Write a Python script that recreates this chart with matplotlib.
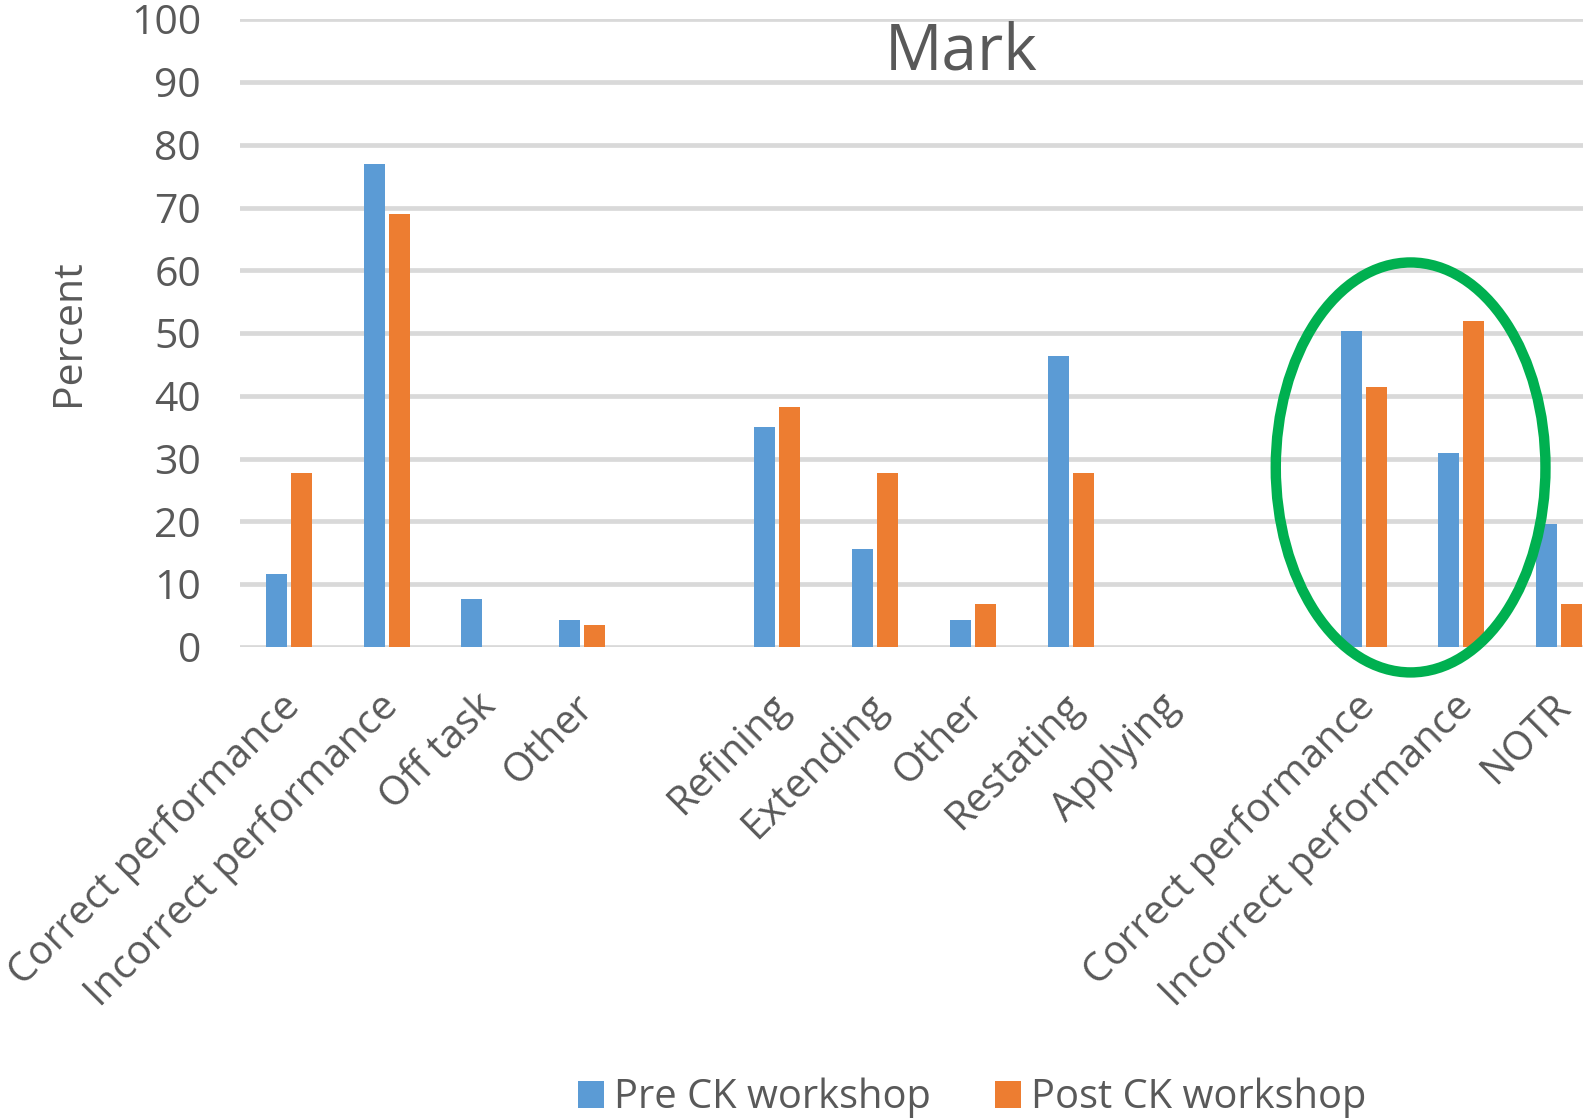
import matplotlib
matplotlib.use('Agg')
import matplotlib.pyplot as plt
import matplotlib.transforms as mtrans
from matplotlib.patches import Ellipse
import numpy as np

plt.rcParams['font.family'] = ['Open Sans', 'DejaVu Sans']

# categories ('' = spacer between groups)
categories = ['Correct performance', 'Incorrect performance', 'Off task', 'Other', '',
              'Refining', 'Extending', 'Other', 'Restating', 'Applying', '',
              'Correct performance', 'Incorrect performance', 'NOTR']
pre_ck = [11.6, 77.0, 7.6, 4.3, 0, 35.0, 15.6, 4.3, 46.3, 0, 0, 50.3, 30.9, 19.6]
post_ck = [27.7, 68.9, 0, 3.5, 0, 38.2, 27.7, 6.8, 27.7, 0, 0, 41.4, 52.0, 6.8]
series_names = ['Pre CK workshop', 'Post CK workshop']

blue = '#5b9bd5'
orange = '#ed7d31'
grey_txt = '#595959'
grid_col = '#d9d9d9'

W, H = 1583, 1119
fig = plt.figure(figsize=(W / 100, H / 100), dpi=100)
# plot area runs past the right edge of the figure
ax = fig.add_axes([240 / W, 1 - 647 / H, 1368 / W, (647 - 19.2) / H])

x = np.arange(len(categories))
bw = 0.215
off = 0.128
b1 = ax.bar(x - off, pre_ck, bw, color=blue, linewidth=0, zorder=3, label=series_names[0])
b2 = ax.bar(x + off, post_ck, bw, color=orange, linewidth=0, zorder=3, label=series_names[1])

ax.set_xlim(-0.5, len(categories) - 0.5)
ax.set_ylim(0, 100)
ax.set_yticks(np.arange(0, 101, 10))
ax.yaxis.grid(True, color=grid_col, linewidth=3.4, zorder=0)
ax.set_axisbelow(True)
for s in ax.spines.values():
    s.set_visible(False)
ax.tick_params(axis='both', length=0, colors=grey_txt, labelsize=29.5)
ax.tick_params(axis='y', pad=28)
ax.set_xticks(x)
ax.set_xticklabels(categories, rotation=45, ha='right', rotation_mode='anchor', fontsize=29)
ax.tick_params(axis='x', pad=14)
# nudge the slanted labels down and a little left
shift = mtrans.ScaledTranslation(-9 / 100, -20 / 100, fig.dpi_scale_trans)
for lab in ax.get_xticklabels():
    lab.set_transform(lab.get_transform() + shift)
ax.set_ylabel('Percent', fontsize=29.5, color=grey_txt, labelpad=30)

# highlight ring round the last two performance groups
ring = Ellipse((11.48, 28.6), 2.76, 65.3, fill=False, edgecolor='#00b050',
               linewidth=7.5, zorder=5, clip_on=False)
ax.add_patch(ring)

fig.text(961 / W, 1 - 52 / H, 'Mark', ha='center', va='center', fontsize=46, color=grey_txt)

fig.legend(handles=[b1, b2], loc='center', bbox_to_anchor=(972 / W, 1 - 1098 / H),
           ncol=2, frameon=False, fontsize=28.7, labelcolor=grey_txt,
           handlelength=0.65, handleheight=0.65, handletextpad=0.25, columnspacing=1.6)

fig.savefig('out.png', dpi=100)
